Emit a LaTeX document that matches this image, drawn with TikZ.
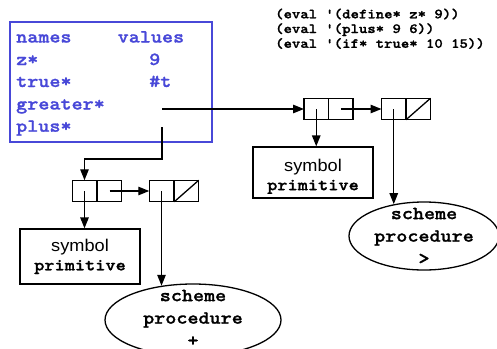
\documentclass[tikz,border=0pt]{standalone}
\usepackage{fontspec}
\usetikzlibrary{arrows.meta,shapes.geometric,calc}
\newfontfamily\cmono{lmmonolt10-bold}[Extension=.otf, FakeStretch=1.14, FakeBold=1.2]
\newfontfamily\hsans[FakeStretch=1.07]{Liberation Sans}
\definecolor{tblue}{RGB}{72,72,216}
\begin{document}
\begin{tikzpicture}[x=1pt,y=-1pt,
  bluetxt/.style={font=\cmono\fontsize{18.5}{20}\selectfont, text=tblue, anchor=base west, inner sep=0},
  evaltxt/.style={font=\cmono\fontsize{14}{15}\selectfont, anchor=base west, inner sep=0},
  half/.style={draw, line width=1.3pt, minimum width=24.5pt, minimum height=21.5pt, inner sep=0, outer sep=0},
  arr/.style={-{Triangle[length=11pt,width=8.5pt]}, line width=1.3pt},
  plain/.style={line width=1.3pt},
  symbox/.style={draw, line width=1.3pt, inner sep=0, align=center, minimum width=120pt, font=\hsans\fontsize{17}{19}\selectfont},
  ell/.style={draw, ellipse, line width=1.3pt, inner sep=-12pt, align=center, font=\cmono\fontsize{18.5}{22.5}\selectfont}
]
\useasboundingbox (0,0) rectangle (497,348);
% environment table
\node[draw=tblue, line width=1.6pt, minimum width=202pt, minimum height=120pt, inner sep=0] (env) at (111,82) {};
\node[bluetxt] (names) at (16,42.5) {names};
\node[bluetxt] (values) at (117.5,42.5) {values};
\node[bluetxt] (zs) at (16,65) {z*};
\node[bluetxt] (nine) at (149,65) {9};
\node[bluetxt] (trues) at (16,87) {true*};
\node[bluetxt] (hasht) at (149,87) {\#t};
\node[bluetxt] (greaters) at (16,109.5) {greater*};
\node[bluetxt] (pluss) at (16,131.7) {plus*};
% eval lines
\node[evaltxt] (e1) at (275,18.3) {(eval '(define* z* 9))};
\node[evaltxt] (e2) at (275,33) {(eval '(plus* 9 6))};
\node[evaltxt] (e3) at (275,47.8) {(eval '(if* true* 10 15))};
% right cons cells
\node[half] (R1a) at (316.25,109) {};
\node[half] (R1b) at (340.75,109) {};
\node[half] (R2a) at (393.75,109) {};
\node[half] (R2b) at (418.25,109) {};
\draw[plain] (R2b.south west) -- (R2b.north east);
% left cons cells
\node[half] (L1a) at (84.5,191) {};
\node[half] (L1b) at (109.5,191) {};
\node[half] (L2a) at (161.5,191) {};
\node[half] (L2b) at (186.5,191) {};
\draw[plain] (L2b.south west) -- (L2b.north east);
% symbol boxes
\node[symbox, minimum height=51pt] (symR) at (313,172.5) {\rule{0pt}{20pt}symbol\\{\cmono\fontsize{17}{19}\selectfont primitive}};
\node[symbox, minimum height=55pt] (symL) at (80,256.5) {symbol\\{\cmono\fontsize{17}{19}\selectfont primitive}};
% ellipses
\node[ell, minimum width=150pt, minimum height=68pt] (ellR) at (424,236) {scheme\\procedure\\>};
\node[ell, minimum width=176pt, minimum height=72pt] (ellL) at (193,320) {scheme\\procedure\\+\rule[-4pt]{0pt}{4pt}};
% connectors
\coordinate (g) at (162,109);
\coordinate (p) at (162,127);
\coordinate (pb) at (162,159);
\draw[arr] (g) -- (R1a.west);
\draw[arr] (R1b.center) -- (R2a.west);
\draw[arr] (R1a.center) -- (R1a.center |- symR.north);
\draw[arr, shorten >=-2.8pt] (R2a.center) -- (R2a.center |- ellR.north);
\draw[arr] (p) -- (pb) -| (L1a.north);
\draw[arr] (L1b.center) -- (L2a.west);
\draw[arr] (L1a.center) -- (L1a.center |- symL.north);
\draw[arr, shorten >=-2.4pt] (L2a.center) -- (L2a.center |- ellL.north);
\end{tikzpicture}
\end{document}
